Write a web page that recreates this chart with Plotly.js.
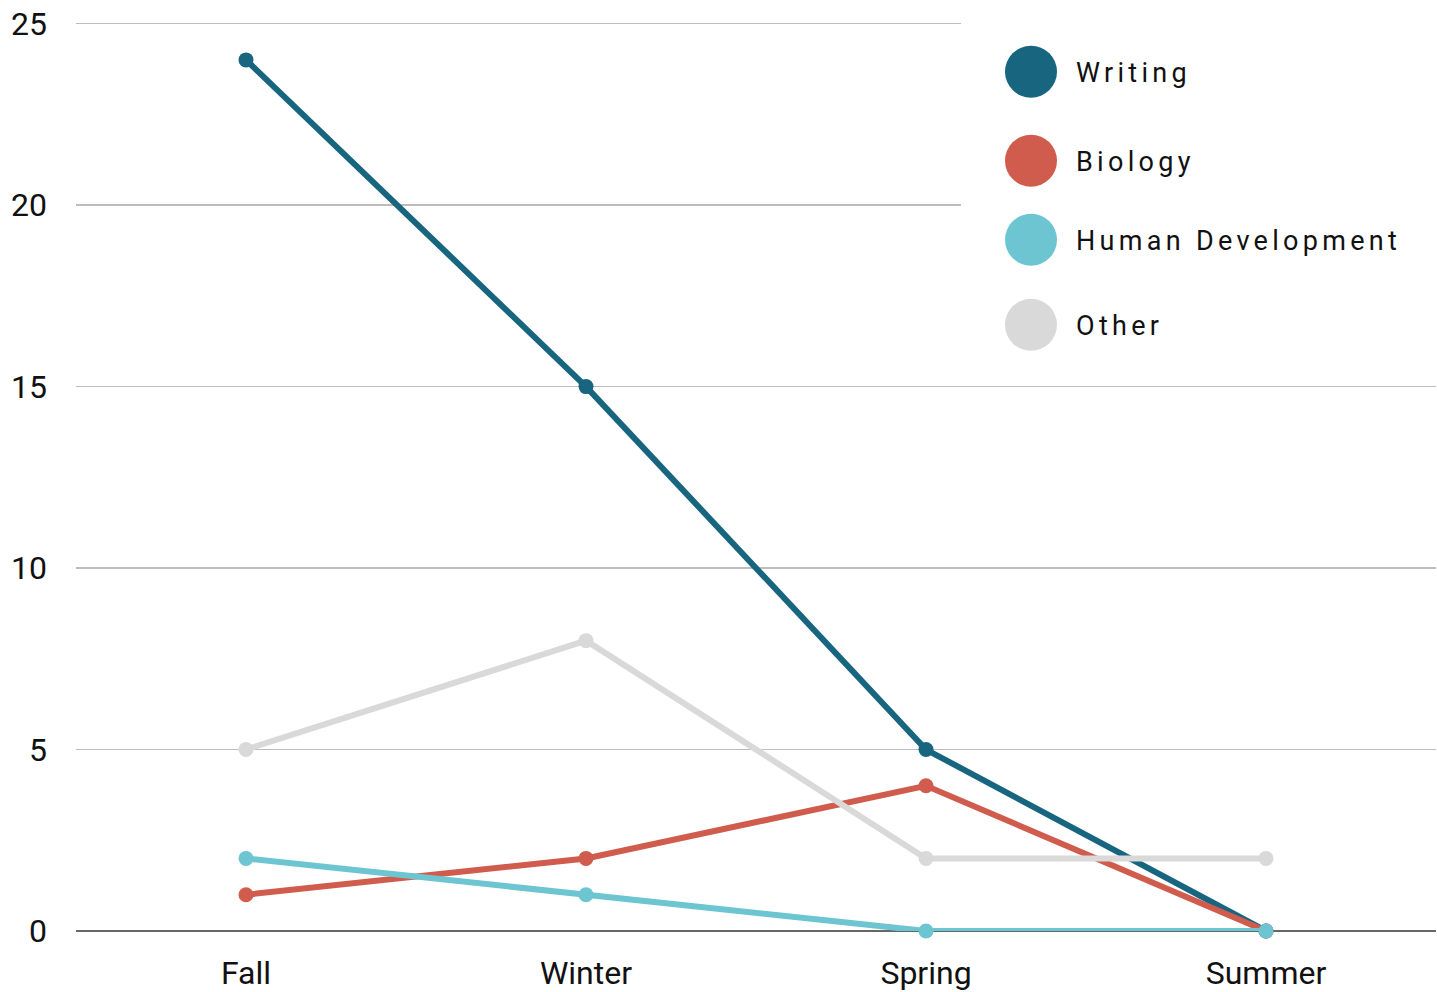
<!DOCTYPE html>
<html>
<head>
<meta charset="utf-8">
<script src="https://cdn.plot.ly/plotly-3.0.1.min.js"></script>
<style>
html, body { margin:0; padding:0; background:#fff; }
#chart { width:1437px; height:992px; }
.annotation-text { letter-spacing: 4.3px; }
</style>
</head>
<body>
<div id="chart"></div>
<script>
const seasons = ["Fall", "Winter", "Spring", "Summer"];
const writing = [24, 15, 5, 0];
const biology = [1, 2, 4, 0];
const humanDevelopment = [2, 1, 0, 0];
const other = [5, 8, 2, 2];
const seriesNames = ["Writing", "Biology", "Human Development", "Other"];
const seriesColors = ["#17657f", "#d05c4d", "#6dc5d1", "#d9d9d9"];
const yTicks = [0, 5, 10, 15, 20, 25];

const seriesData = [writing, biology, humanDevelopment, other];
const traces = seriesData.map((vals, i) => ({
  type: "scatter",
  mode: "lines+markers",
  x: seasons,
  y: vals,
  name: seriesNames[i],
  line: { color: seriesColors[i], width: 6 },
  marker: { color: seriesColors[i], size: 15 },
  cliponaxis: false,
  hoverinfo: "skip"
}));

const yMax = 25.1;
const W = 1437, H = 992, L = 76, R = 1, B = 61;
const T = 24 - (yMax - 25) * (907 / 25);
const pw = W - L - R, ph = H - T - B;
const px2x = p => (p - L) / pw;
const py2y = p => (H - B - p) / ph;

const legendY = [72, 161, 240, 325];
const shapes = [{
  type: "rect", xref: "paper", yref: "paper", layer: "above",
  x0: px2x(961), x1: 1.01, y0: py2y(370), y1: py2y(0),
  fillcolor: "#ffffff", line: { width: 0 }
}];
const annotations = [];
seriesNames.forEach((n, i) => {
  shapes.push({
    type: "circle", xref: "paper", yref: "paper", layer: "above",
    xsizemode: "pixel", ysizemode: "pixel",
    xanchor: px2x(1031), yanchor: py2y(legendY[i]),
    x0: -26, x1: 26, y0: -26, y1: 26,
    fillcolor: seriesColors[i], line: { width: 0 }
  });
  annotations.push({
    xref: "paper", yref: "paper", x: px2x(1074), y: py2y(legendY[i] + 1),
    xanchor: "left", yanchor: "middle", showarrow: false,
    text: n, font: { family: "Roboto, sans-serif", size: 27, color: "#111" }
  });
});

const layout = {
  width: W, height: H,
  margin: { l: L, r: R, t: T, b: B, pad: 0 },
  paper_bgcolor: "#ffffff", plot_bgcolor: "#ffffff",
  showlegend: false,
  font: { family: "Roboto, sans-serif", color: "#111" },
  xaxis: {
    type: "category", range: [-0.5, 3.5],
    showgrid: false, zeroline: false, showline: false, ticks: "",
    tickfont: { size: 32, color: "#111" }, ticklabelstandoff: 20,
    fixedrange: true
  },
  yaxis: {
    range: [0, yMax], tickvals: yTicks, ticktext: yTicks.map(String),
    showgrid: true, gridcolor: "#bdbdbd", gridwidth: 1.6,
    zeroline: true, zerolinecolor: "#666666", zerolinewidth: 2,
    showline: false, ticks: "",
    tickfont: { size: 32, color: "#111" }, ticklabelstandoff: 28,
    fixedrange: true
  },
  shapes: shapes,
  annotations: annotations
};

Plotly.newPlot("chart", traces, layout, { displayModeBar: false, staticPlot: true });
</script>
</body>
</html>
